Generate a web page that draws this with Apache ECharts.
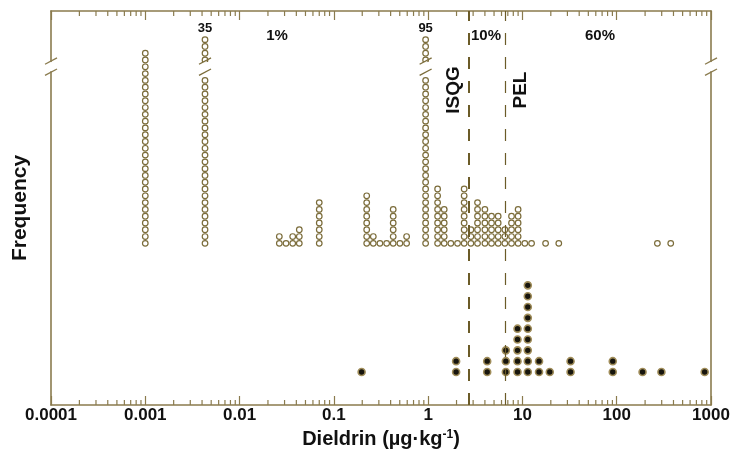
<!DOCTYPE html>
<html><head><meta charset="utf-8">
<script src="https://cdn.jsdelivr.net/npm/echarts@6/dist/echarts.min.js"></script>
<style>html,body{margin:0;padding:0;background:#fff}#c{width:737px;height:452px}</style>
</head><body><div id="c"></div>
<script>
// ---- data ----
const xTickLabels = ['0.0001','0.001','0.01','0.1','1','10','100','1000'];
// upper panel (open circles): concentration and number of samples stacked in that bin
const openX = [0.001,0.0043,0.0264,0.0311,0.0366,0.043,0.070,0.223,0.262,0.308,0.363,0.426,0.502,0.591,0.94,1.26,1.48,1.74,2.05,2.41,2.84,3.34,4.00,4.70,5.53,6.51,7.66,9.00,10.6,12.5,17.6,24.3,270,374];
const openN = [29,35,2,1,2,3,7,8,2,1,1,6,1,2,95,9,6,1,1,9,3,7,6,5,5,3,5,6,1,1,1,1,1,1];
// lower panel (filled dots)
const filledX = [0.197,1.98,4.23,6.67,8.87,11.4,15.0,19.5,32.4,90.8,188,298,857];
const filledN = [1,2,2,3,5,9,2,1,2,2,1,1,1];
// guideline values
const guideNames = ['ISQG','PEL'];
const guideValues = [2.7,6.6];
const pctLabels = ['1%','10%','60%'];
const minorMultipliers = [2,3,4,5,6,7,8,9];

// ---- styling constants ----
const AX = '#8a7b4e';
const FONT = '"Liberation Sans", Arial, sans-serif';
const BREAK_LOW = 25, BREAK_HIGH = 28, TOP_ROWS = 4, MAX_PLAIN = 31;

function rowsFor(n){
  const r = [];
  if (n <= MAX_PLAIN){ for(let i=1;i<=n;i++) r.push(i); }
  else {
    for(let i=1;i<=BREAK_LOW;i++) r.push(i);
    for(let i=BREAK_HIGH;i<BREAK_HIGH+TOP_ROWS;i++) r.push(i);
  }
  return r;
}
const openPts = [], brokenCols = [];
openX.forEach((x,i)=>{
  rowsFor(openN[i]).forEach(r=>openPts.push([x,r]));
  if (openN[i] > MAX_PLAIN) brokenCols.push({x:x, n:openN[i]});
});
const filledPts = [];
filledX.forEach((x,i)=>{ for(let k=1;k<=filledN[i];k++) filledPts.push([x,k]); });

const chart = echarts.init(document.getElementById('c'), null, {renderer:'canvas'});
const X_MIN = 0.0001, X_MAX = 1000;
const xCommon = {
  type:'log', logBase:10, min:X_MIN, max:X_MAX, splitNumber:7,
  axisLine:{show:true, onZero:false, lineStyle:{color:AX, width:1.6}},
  axisTick:{show:true, inside:true, length:9, lineStyle:{color:AX, width:1.2}},
  minorTick:{show:false},
  splitLine:{show:false}, minorSplitLine:{show:false}
};
const option = {
  animation:false,
  backgroundColor:'#fff',
  grid:{left:51, right:26, top:11, bottom:47, containLabel:false, outerBoundsMode:'none'},
  xAxis:[
    Object.assign({}, xCommon, {
      position:'bottom',
      axisLabel:{show:true, margin:2, color:'#111', fontFamily:FONT, fontWeight:'bold', fontSize:17,
        formatter:(v,i)=>xTickLabels[i] !== undefined ? xTickLabels[i] : ''},
      name:'Dieldrin (µg·kg{sup|-1})', nameLocation:'middle', nameGap:23,
      nameTextStyle:{color:'#111', fontFamily:FONT, fontWeight:'bold', fontSize:20,
        rich:{sup:{fontSize:12, fontWeight:'bold', fontFamily:FONT, color:'#111', verticalAlign:'top', padding:[0,0,9,0]}}}
    }),
    Object.assign({}, xCommon, {position:'top', axisLabel:{show:false}})
  ],
  yAxis:[
    {type:'value', min:-22.81, max:35.22, position:'left',
     axisLine:{show:true, onZero:false, lineStyle:{color:AX, width:1.6}}, axisTick:{show:false}, axisLabel:{show:false}, splitLine:{show:false},
     name:'Frequency', nameLocation:'middle', nameGap:20,
     nameTextStyle:{color:'#111', fontFamily:FONT, fontWeight:'bold', fontSize:21}},
    {type:'value', min:-2.047, max:34.33, position:'right',
     axisLine:{show:true, onZero:false, lineStyle:{color:AX, width:1.6}}, axisTick:{show:false}, axisLabel:{show:false}, splitLine:{show:false}}
  ],
  series:[
    {type:'scatter', name:'open', xAxisIndex:0, yAxisIndex:0, data:openPts, symbol:'circle', symbolSize:5.6,
     itemStyle:{color:'#fff', borderColor:'#7b6c3a', borderWidth:1.2, opacity:1}, z:3},
    {type:'scatter', name:'filled', xAxisIndex:0, yAxisIndex:1, data:filledPts, symbol:'circle', symbolSize:7,
     itemStyle:{color:'#17150d', borderColor:'#a08d5a', borderWidth:1.6, opacity:1}, z:3},
    {type:'scatter', name:'counts', xAxisIndex:0, yAxisIndex:0, symbolSize:1, itemStyle:{color:'rgba(0,0,0,0)'},
     data:brokenCols.map(c=>({value:[c.x, BREAK_HIGH+TOP_ROWS+0.7], label:{formatter:String(c.n)}})),
     label:{show:true, position:'inside', color:'#111', opacity:1, fontFamily:FONT, fontWeight:'bold', fontSize:13}, z:5},
    {type:'scatter', name:'guides', xAxisIndex:0, yAxisIndex:0, data:[], z:6,
     markLine:{silent:true, symbol:'none', label:{show:false},
       data:guideValues.map((v,i)=>({xAxis:v, lineStyle:{color:'#6b5b28', width: i===0?2:1.2, type:[12,12]}}))}}
  ]
};
chart.setOption(option);

// ---- annotations positioned with the chart's own scales ----
function px(x,r){ return chart.convertToPixel({xAxisIndex:0, yAxisIndex:0}, [x,r]); }
const g = [];
// log minor ticks (2..9 per decade) on top and bottom axes
const gridTop = px(1, 35.22)[1], gridBot = px(1, -22.81)[1];
for (let d = Math.log10(X_MIN); d < Math.log10(X_MAX); d++){
  minorMultipliers.forEach(m=>{
    const x = px(m*Math.pow(10,d), 0)[0];
    g.push({type:'line', shape:{x1:x, y1:gridTop, x2:x, y2:gridTop+5}, style:{stroke:AX, lineWidth:1.2}, z:10});
    g.push({type:'line', shape:{x1:x, y1:gridBot, x2:x, y2:gridBot-5}, style:{stroke:AX, lineWidth:1.2}, z:10});
  });
}
function slashPair(cx, y1, y2, half, color){
  [y1,y2].forEach(y=>g.push({type:'line', shape:{x1:cx-half, y1:y+3.2, x2:cx+half, y2:y-3.2},
    style:{stroke:color, lineWidth:1.3}, z:20}));
}
// axis breaks (left and right)
const yTop = px(0.001, 27.85)[1], yBot = px(0.001, 26.2)[1];
[px(X_MIN,0)[0], px(X_MAX,0)[0]].forEach(ax=>{
  g.push({type:'rect', shape:{x:ax-3, y:yTop+1, width:6, height:yBot-yTop-2}, style:{fill:'#fff'}, z:19});
  slashPair(ax, yTop, yBot, 6, AX);
});
// column breaks
brokenCols.forEach(c=>{
  const p = px(c.x, 27);
  g.push({type:'rect', shape:{x:p[0]-4, y:yTop+1, width:8, height:yBot-yTop-2}, style:{fill:'#fff'}, z:19});
  slashPair(p[0], yTop, yBot, 6, '#7b6c3a');
});
// percentage labels
const pctPos = [277, 486, 600];
pctLabels.forEach((t,i)=>g.push({type:'text', x:pctPos[i], y:36, z:20,
  style:{text:t, fill:'#111', font:'bold 15px '+FONT, textAlign:'center', textVerticalAlign:'middle'}}));
// guideline names (rotated)
guideValues.forEach((v,i)=>{
  const p = px(v, 0);
  const dx = i===0 ? -15 : 15;
  g.push({type:'text', x:p[0]+dx, y:90, rotation:Math.PI/2, z:20,
    style:{text:guideNames[i], fill:'#111', font:'bold 19px '+FONT, textAlign:'center', textVerticalAlign:'middle'}});
});
chart.setOption({graphic:g});
</script>
</body></html>
